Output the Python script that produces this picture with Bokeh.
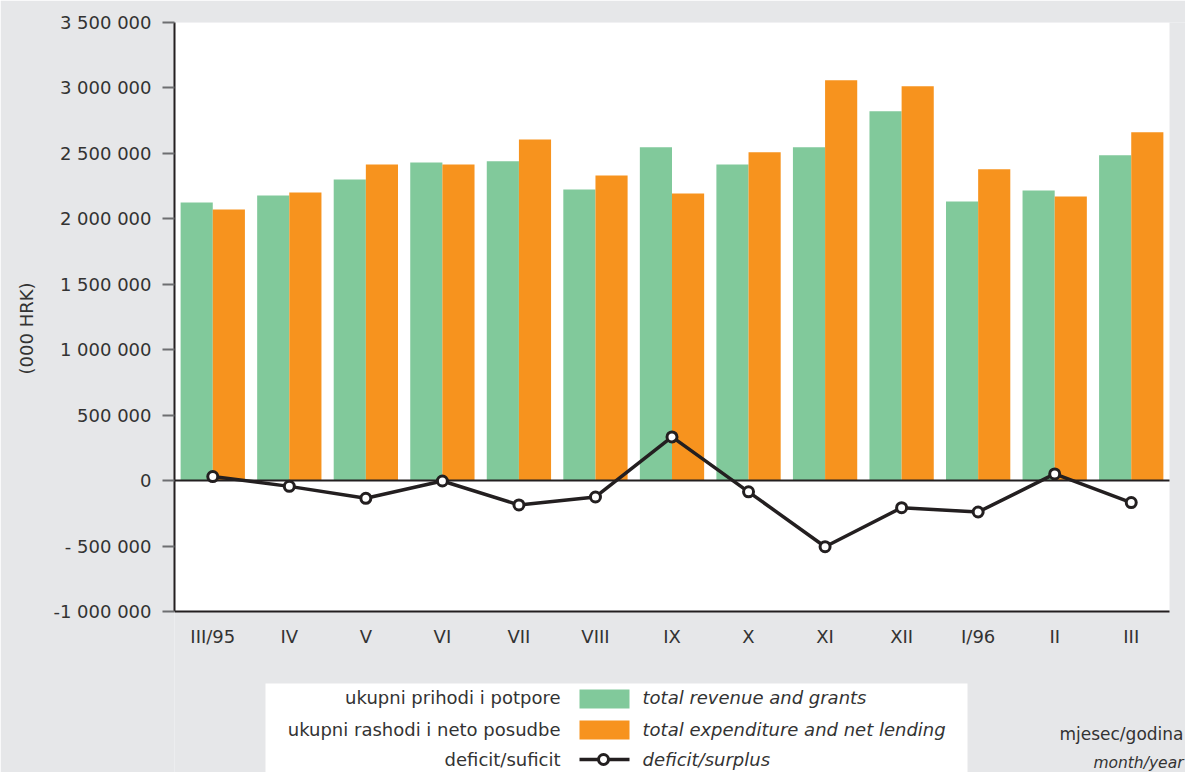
from bokeh.plotting import figure
from bokeh.models import Range1d, ColumnDataSource, FixedTicker, Label, BoxAnnotation, Title
from bokeh.transform import dodge
from bokeh.embed import file_html
from bokeh.resources import INLINE
from bokeh.core.properties import value

# ---------------- data ----------------
months = ["III/95", "IV", "V", "VI", "VII", "VIII", "IX", "X", "XI", "XII", "I/96", "II", "III"]
revenue = [2125000, 2178000, 2301000, 2431000, 2439000, 2224000, 2546000,
           2416000, 2546000, 2822000, 2133000, 2216000, 2485000]
expenditure = [2071000, 2201000, 2416000, 2416000, 2607000, 2332000, 2194000,
               2508000, 3059000, 3013000, 2378000, 2170000, 2661000]
balance = [31000, -44000, -135000, -3000, -186000, -125000, 334000,
           -86000, -505000, -207000, -240000, 51000, -168000]
y_ticks = [-1000000, -500000, 0, 500000, 1000000, 1500000, 2000000, 2500000, 3000000, 3500000]
y_tick_labels = ["-1 000 000", "- 500 000", "0", "500 000", "1 000 000", "1 500 000",
                 "2 000 000", "2 500 000", "3 000 000", "3 500 000"]
series_hr = ["ukupni prihodi i potpore", "ukupni rashodi i neto posudbe", "deficit/suficit"]
series_en = ["total revenue and grants", "total expenditure and net lending", "deficit/surplus"]
y_title = "(000 HRK)"
x_title_hr = "mjesec/godina"
x_title_en = "month/year"

# ---------------- style / layout ----------------
GREEN = "#81c99b"
ORANGE = "#f7931e"
DARK = "#231f20"
TEXT = "#333333"
BG = "#e6e7e9"
FONT = "DejaVu Sans"

W, H = 1185, 772
LEFT, TOP = 174, 22            # plot-area corner
PLOT_W, PLOT_H = 995, 589      # white plot-area size in px
Y_MIN, Y_MAX = y_ticks[0], y_ticks[-1]
n = len(months)

# frame extends to the right and bottom edges so that the legend can live inside it
frame_w = W - LEFT
frame_h = H - TOP
x_end = n * frame_w / PLOT_W
y_start = Y_MIN - (frame_h - PLOT_H) * (Y_MAX - Y_MIN) / PLOT_H

xpos = [i + 0.5 for i in range(n)]
src = ColumnDataSource(dict(x=xpos, month=months, revenue=revenue,
                            expenditure=expenditure, balance=balance))

p = figure(x_range=Range1d(0, x_end), y_range=Range1d(y_start, Y_MAX),
           width=W, height=H, output_backend="svg", toolbar_location=None,
           x_axis_location=None,
           min_border_left=LEFT, min_border_right=0, min_border_top=TOP, min_border_bottom=0)
p.background_fill_color = BG
p.border_fill_color = BG
p.outline_line_color = None
p.xgrid.visible = False
p.ygrid.visible = False

# white plotting area
p.add_layout(BoxAnnotation(left=0, right=n, bottom=Y_MIN, top=Y_MAX, fill_color="white",
                           fill_alpha=1.0, line_color=None, level="underlay"))

p.vbar(x=dodge("x", -0.21), top="revenue", bottom=0, width=0.42,
       source=src, fill_color=GREEN, line_color=None)
p.vbar(x=dodge("x", 0.21), top="expenditure", bottom=0, width=0.42,
       source=src, fill_color=ORANGE, line_color=None)
# zero line and bottom axis line
p.segment(x0=[0, 0], x1=[n, n], y0=[0, Y_MIN], y1=[0, Y_MIN], line_color=DARK, line_width=2)
p.line("x", "balance", source=src, line_color=DARK, line_width=3.5)
p.scatter("x", "balance", source=src, size=10, fill_color="white",
          line_color=DARK, line_width=3)

# category labels under the bottom axis line
p.text(x="x", y=Y_MIN, text="month", source=src, y_offset=25, text_align="center",
       text_baseline="middle", text_font=value(FONT), text_font_size="18px", text_color=TEXT)

ya = p.yaxis[0]
ya.bounds = (Y_MIN, Y_MAX)
ya.ticker = FixedTicker(ticks=y_ticks)
ya.major_label_overrides = {t: l for t, l in zip(y_ticks, y_tick_labels)}
ya.axis_line_width = 2
ya.axis_line_color = DARK
ya.major_tick_out = 12
ya.major_tick_in = 0
ya.major_tick_line_color = "#6d6e71"
ya.major_tick_line_width = 2
ya.minor_tick_line_color = None
ya.major_label_text_font = FONT
ya.major_label_text_font_size = "18px"
ya.major_label_text_color = TEXT
ya.major_label_standoff = 11

# y-axis title as a side title so it can sit off-centre, as in the original
p.add_layout(Title(text=y_title, align="right", offset=260, vertical_align="middle",
                   standoff=26, text_font=FONT, text_font_size="18px",
                   text_font_style="normal", text_color=TEXT), "left")

# ---------------- legend (canvas pixel units) ----------------
def box(l, r, t, b, color, **kw):
    kw.setdefault("line_color", None)
    return BoxAnnotation(left=l, right=r, top=t, bottom=b,
                         left_units="canvas", right_units="canvas",
                         top_units="canvas", bottom_units="canvas",
                         fill_color=color, fill_alpha=1.0, **kw)

rows = [697, 729, 759]
p.add_layout(box(265, 967, 683, 772, "white"))
p.add_layout(box(579, 629, 689, 708, GREEN))
p.add_layout(box(579, 629, 720, 739, ORANGE))
p.add_layout(box(579, 629, rows[2] - 1.75, rows[2] + 1.75, DARK))
p.add_layout(box(598, 608, rows[2] - 5, rows[2] + 5, "white",
                 line_color=DARK, line_width=3, line_alpha=1.0, border_radius=5))

for name_hr, name_en, y in zip(series_hr, series_en, rows):
    p.add_layout(Label(x=560, y=y, x_units="canvas", y_units="canvas", text=name_hr,
                       text_align="right", text_baseline="middle", text_font=FONT,
                       text_font_size="18px", text_color=TEXT))
    p.add_layout(Label(x=642, y=y, x_units="canvas", y_units="canvas", text=name_en,
                       text_align="left", text_baseline="middle", text_font=FONT,
                       text_font_style="italic", text_font_size="18px", text_color=TEXT))

p.add_layout(Label(x=1183, y=733, x_units="canvas", y_units="canvas", text=x_title_hr,
                   text_align="right", text_baseline="middle", text_font=FONT,
                   text_font_size="17px", text_color=TEXT))
p.add_layout(Label(x=1183, y=762, x_units="canvas", y_units="canvas", text=x_title_en,
                   text_align="right", text_baseline="middle", text_font=FONT,
                   text_font_style="italic", text_font_size="15.5px", text_color=TEXT))

open("out.html", "w").write(file_html(p, INLINE))
